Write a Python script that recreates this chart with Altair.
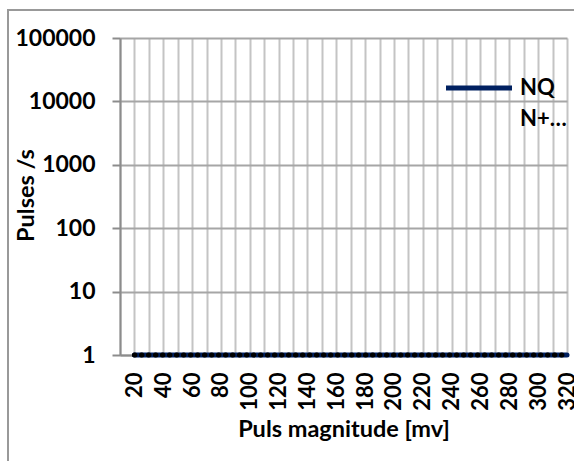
import altair as alt
import pandas as pd

# Pulse magnitude categories (mV) and measured pulse rates
magnitude = [20, 30, 40, 50, 60, 70, 80, 90, 100, 110, 120, 130, 140, 150, 160,
             170, 180, 190, 200, 210, 220, 230, 240, 250, 260, 270, 280, 290,
             300, 310, 320]
nq_rate = [1] * len(magnitude)
nplus_rate = [1] * len(magnitude)

series_names = ["NQ", "N+…"]
y_ticks = [1, 10, 100, 1000, 10000, 100000]
x_grid = list(range(10, 330, 10))

FONT = "Lato"
WEIGHT = "bold"

nq = pd.DataFrame({"mv": magnitude, "rate": nq_rate, "series": series_names[0]})
nplus = pd.DataFrame({"mv": magnitude, "rate": nplus_rate, "series": series_names[1]})

x_enc = alt.X(
    "mv:Q",
    scale=alt.Scale(domain=[10, 320], nice=False, zero=False),
    axis=alt.Axis(
        title="Puls magnitude [mv]",
        values=x_grid,
        labelExpr="datum.value % 20 == 0 ? datum.label : ''",
        labelAngle=-90,
        labelPadding=17,
        labelFontSize=22,
        ticks=False,
        gridColor="#c4c4c4",
        gridWidth=2,
        titlePadding=7,
    ),
)
y_enc = alt.Y(
    "rate:Q",
    scale=alt.Scale(type="log", domain=[1, 100000], nice=False),
    axis=alt.Axis(
        title="Pulses /s",
        values=y_ticks,
        format="d",
        tickSize=8,
        tickWidth=2,
        tickColor="#8c8c8c",
        labelPadding=17,
        labelFontSize=23,
        gridColor="#a6a6a6",
        gridWidth=2,
        titleX=-94,
        titleY=157,
        titleBaseline="middle",
    ),
)

nq_line = alt.Chart(nq).mark_line(strokeWidth=5, strokeCap="round").encode(
    x=x_enc,
    y=y_enc,
    color=alt.Color(
        "series:N",
        scale=alt.Scale(domain=series_names, range=["#002060", "transparent"]),
        legend=alt.Legend(
            title=None,
            orient="none",
            legendX=348,
            legendY=39,
            symbolType="M-4.125,0H4.125",
            symbolSize=256,
            symbolStrokeWidth=5,
            labelOffset=30,
            labelFontSize=22,
            labelFontWeight=WEIGHT,
            labelFont=FONT,
            labelColor="#000000",
            rowPadding=9,
        ),
    ),
)

# Second series drawn as round black dots over the first line
nplus_line = alt.Chart(nplus).mark_line(
    strokeWidth=5, strokeCap="round", strokeDash=[0.5, 6.5], color="#000000"
).encode(x=x_enc, y=y_enc)

frame = alt.Chart(pd.DataFrame({"frame": [0]})).mark_rect(
    fillOpacity=0, stroke="#999999", strokeWidth=2
).encode(
    x=alt.value(-112), y=alt.value(-28), x2=alt.value(600), y2=alt.value(600)
)

chart = (
    alt.layer(frame, nq_line, nplus_line)
    .properties(
        width=447,
        height=317,
        autosize=alt.AutoSizeParams(type="none"),
        padding={"left": 120, "top": 38, "right": 7, "bottom": 106},
        background="white",
    )
    .configure_view(stroke=None)
    .configure_axis(
        labelFont=FONT,
        labelFontWeight=WEIGHT,
        labelColor="#000000",
        titleFont=FONT,
        titleFontSize=23.5,
        titleFontWeight=WEIGHT,
        titleColor="#000000",
        domainColor="#8c8c8c",
        domainWidth=2,
    )
)

chart.save("out.html", embed_options={"renderer": "svg", "actions": False})
